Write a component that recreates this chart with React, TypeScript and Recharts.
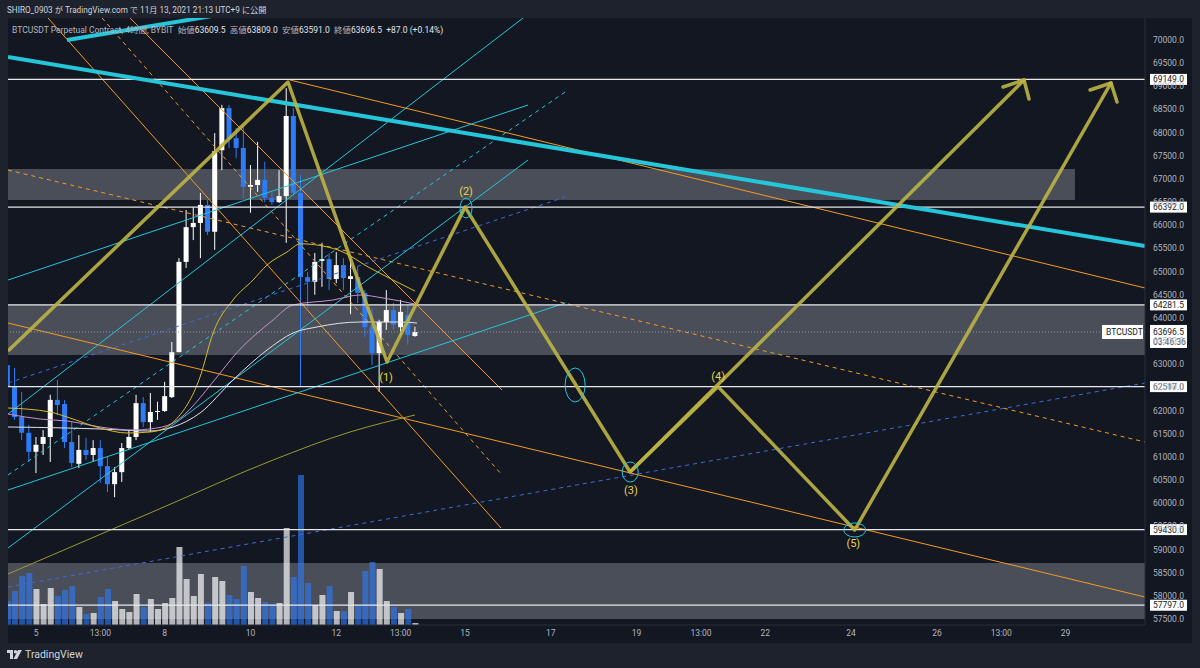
import React from 'react';
import {
  ComposedChart,
  Bar,
  Line,
  XAxis,
  YAxis,
  ReferenceLine,
  ReferenceArea,
  ReferenceDot,
} from 'recharts';

// ---------- DATA ----------
const candleIdx = [-4, -3, -2, -1, 0, 1, 2, 3, 4, 5, 6, 7, 8, 9, 10, 11, 12, 13, 14, 15, 16, 17, 18, 19, 20, 21, 22, 23, 24, 25, 26, 27, 28, 29, 30, 31, 32, 33, 34, 35, 36, 37, 38, 39, 40, 41, 42, 43, 44, 45, 46, 47, 48, 49, 50, 51, 52, 53];
const opens = [62980, 62510, 61860, 61520, 61110, 61280, 61430, 62230, 62140, 61320, 60850, 61150, 61040, 61190, 60800, 60410, 60670, 61190, 61430, 62160, 61750, 61970, 61990, 62290, 63260, 65210, 65960, 66050, 66440, 65860, 67620, 68530, 67880, 67670, 66830, 66870, 66980, 66590, 66500, 66630, 68360, 66700, 64880, 64780, 65230, 65270, 64840, 65140, 64840, 64880, 64540, 63800, 63240, 63910, 64170, 63800, 64060, 63609.5];
const highs = [63090, 62920, 62400, 61690, 61430, 61580, 62340, 62660, 62230, 61750, 61470, 61410, 61360, 61360, 61000, 60780, 61300, 61580, 62340, 62290, 62380, 62190, 62620, 63480, 65290, 66330, 66390, 66700, 66550, 67990, 68600, 68600, 68100, 68170, 67300, 67800, 67370, 66720, 67190, 68960, 68530, 67090, 64990, 65400, 65620, 65400, 65420, 65290, 65290, 65100, 64600, 64210, 63960, 64600, 64320, 64390, 64280, 63809];
const lows = [62440, 61800, 61360, 60890, 60650, 61040, 60890, 61900, 61190, 60780, 60760, 60930, 60890, 60440, 60240, 60130, 60460, 61150, 61360, 61640, 61540, 61800, 61970, 62270, 63260, 65080, 65680, 65290, 65790, 65470, 67190, 67670, 67450, 66590, 66270, 66720, 66500, 66440, 66480, 65620, 66650, 62510, 64210, 64500, 64670, 64600, 64750, 64600, 64080, 64320, 63590, 62980, 62400, 63740, 63740, 63630, 63420, 63591];
const closes = [62510, 61860, 61520, 61110, 61260, 61430, 62230, 62120, 61320, 60870, 61150, 61040, 61190, 60800, 60410, 60670, 61190, 61430, 62160, 61750, 61970, 61990, 62310, 63260, 65210, 65960, 66050, 66440, 65860, 67600, 68530, 67880, 67670, 66830, 66870, 66980, 66590, 66500, 66630, 68360, 66700, 64880, 64780, 65210, 65270, 64840, 65140, 64860, 64900, 64540, 63800, 63240, 63910, 64170, 63850, 64130, 63630, 63696.5];
const volumes = [24, 34, 49, 52, 36, 21, 37, 29, 35, 39, 18, 11, 12, 28, 36, 24, 16, 13, 31, 18, 26, 16, 22, 27, 78, 46, 29, 51, 22, 48, 44, 30, 26, 59, 33, 27, 23, 21, 22, 97, 48, 150, 42, 20, 30, 39, 14, 14, 33, 19, 54, 63, 56, 24, 18, 12, 16, 2];

const tickIdx = [0, 9, 18, 30, 42, 51, 60, 72, 84, 93, 102, 114, 126, 135, 144];
const tickLabels = ['5', '13:00', '8', '10', '12', '13:00', '15', '17', '19', '13:00', '22', '24', '26', '13:00', '29'];
const priceTicks = [57500, 58000, 58500, 59000, 59500, 60000, 60500, 61000, 61500, 62000, 62500, 63000, 63500, 64000, 64500, 65000, 65500, 66000, 66500, 67000, 67500, 68000, 68500, 69000, 69500, 70000];
const levels = [69149.0, 66392.0, 64281.5, 62517.0, 59430.0, 57797.0];
const lastPrice = 63696.5;
const countdown = '03:46:36';
const symbol = 'BTCUSDT';

const xDomain = [-3.92, 155.1];
const yDomain = [57370, 70475];

// grey zones [x1, x2, yLow, yHigh]
const zones = [
  [-3.92, 145.3, 66546, 67215],
  [-3.92, 155.1, 63200, 64281.5],
  [-3.92, 155.1, 57500, 58710],
];

// moving averages
const maYellow = [
  { i: -3.92, p: 62055 }, { i: 1.96, p: 61969 }, { i: 4.34, p: 61861 }, { i: 8.95, p: 61623 },
  { i: 12.73, p: 61515 }, { i: 15.94, p: 61537 }, { i: 18.32, p: 61645 }, { i: 19.5, p: 61796 },
  { i: 22.94, p: 62724 }, { i: 24.76, p: 63674 }, { i: 27.55, p: 64387 }, { i: 30.35, p: 64818 },
  { i: 32.31, p: 65142 }, { i: 35.1, p: 65423 }, { i: 37.0, p: 65600 },
  { i: 42.24, p: 65466 }, { i: 46.71, p: 65077 }, { i: 53.0, p: 64581 },
];
const maPink = [
  { i: -3.92, p: 61925 }, { i: 0.56, p: 61817 }, { i: 4.34, p: 61774 }, { i: 9.93, p: 61623 },
  { i: 13.57, p: 61580 }, { i: 15.94, p: 61602 }, { i: 19.16, p: 61731 }, { i: 25.31, p: 62724 },
  { i: 27.55, p: 63156 }, { i: 33.15, p: 63955 }, { i: 35.94, p: 64279 }, { i: 41.54, p: 64387 },
  { i: 45.31, p: 64495 }, { i: 48.53, p: 64430 }, { i: 53.0, p: 64300 },
];
const maWhite = [
  { i: -3.92, p: 61645 }, { i: 4.34, p: 61623 }, { i: 8.95, p: 61602 }, { i: 15.94, p: 61558 },
  { i: 19.16, p: 61645 }, { i: 22.94, p: 61947 }, { i: 27.55, p: 62659 }, { i: 32.31, p: 63307 },
  { i: 35.94, p: 63674 }, { i: 39.3, p: 63804 }, { i: 45.31, p: 63912 }, { i: 50.91, p: 63912 },
  { i: 53.29, p: 63890 },
];
const maOlive = [
  { i: -3.92, p: 58471 }, { i: 16.92, p: 59853 }, { i: 33.15, p: 60932 }, { i: 43.92, p: 61537 },
  { i: 53.0, p: 61904 },
];

// projected wave path
const wavePath = [
  { i: -3.92, p: 63286 }, { i: 35.24, p: 69093 }, { i: 49.09, p: 63048 }, { i: 60.0, p: 66392 },
  { i: 83.08, p: 60673 }, { i: 95.38, p: 62517 }, { i: 114.5, p: 59421 }, { i: 150.35, p: 69072 },
];
const waveBranch = [{ i: 83.08, p: 60673 }, { i: 138.18, p: 69136 }];
// arrow heads: [tipI, tipP, barbI, barbP]
const arrowBarbs = [
  [138.18, 69136, 135.24, 68985],
  [138.18, 69136, 138.88, 68726],
  [150.35, 69072, 147.41, 68920],
  [150.35, 69072, 151.19, 68661],
];
const waveLabels = [
  { t: '(1)', i: 48.95, p: 62724 },
  { t: '(2)', i: 60.14, p: 66740 },
  { t: '(3)', i: 83.2, p: 60285 },
  { t: '(4)', i: 95.4, p: 62746 },
  { t: '(5)', i: 114.3, p: 59140 },
];
const ellipses = [
  { i: 60.14, p: 66373 },
  { i: 75.4, p: 62552 },
  { i: 83.1, p: 60673 },
  { i: 114.5, p: 59421 },
];
const ellipseRadii = [[6, 10], [10, 17], [8, 10], [11, 7]];

// trend lines [i1, p1, i2, p2]
const thickCyanLines = [
  [-3.92, 69633, 155.1, 65552],
  [4.34, 70000, 27.13, 70583],
];
const orangeSolid = [
  [1.68, 70475, 65.03, 59464],
  [13.15, 70475, 65.17, 62444],
  [35.52, 69136, 155.1, 64646],
  [-3.92, 63890, 155.1, 57974],
];
const orangeDashed = [
  [9.23, 70475, 65.17, 60608],
  [-3.92, 67193, 155.1, 61321],
];
const cyanSolid = [
  [-3.92, 61925, 68.11, 70475],
  [-3.92, 64818, 68.81, 68597],
  [-3.92, 59032, 68.81, 67409],
  [-3.92, 60285, 74.0, 64322],
];
const cyanDashed = [[-3.92, 60608, 74.0, 68877]];
const blueDashed = [
  [-3.92, 58190, 155.1, 62595],
  [-3.92, 62595, 74.0, 66610],
];

// ---------- STYLE ----------
const BG = '#131722';
const FRAME = '#1e222d';
const UP = '#ffffff';
const DOWN = '#2e7bf6';
const VOL_UP = 'rgba(255,255,255,0.68)';
const VOL_DOWN = 'rgba(46,123,246,0.62)';
const AXIS_TXT = '#b2b5be';
const FONT = 'Roboto, "Noto Sans CJK JP", sans-serif';
const CYAN = '#26c6da';
const ORANGE = '#f59b22';
const WAVE = '#bdb445';
const WAVE_TXT = '#e8d44d';

const candles = candleIdx.map((i, k) => ({
  i,
  o: opens[k],
  h: highs[k],
  l: lows[k],
  c: closes[k],
  v: volumes[k],
}));

const CandleShape = (props: any) => {
  const { x, y, width, height, payload } = props;
  if (x == null || y == null || !payload) return null;
  const { o, h, l, c } = payload;
  const top = Math.min(y, y + height);
  const hh = Math.abs(height);
  const ratio = h - l > 0 ? hh / (h - l) : 0;
  const bTop = top + (h - Math.max(o, c)) * ratio;
  const bBot = top + (h - Math.min(o, c)) * ratio;
  const color = c >= o ? UP : DOWN;
  const cx = x + width / 2;
  return (
    <g>
      <line x1={cx} x2={cx} y1={top} y2={top + hh} stroke={color} strokeWidth={1} />
      <rect x={x} y={bTop} width={width} height={Math.max(1, bBot - bTop)} fill={color} />
    </g>
  );
};

const VolShape = (props: any) => {
  const { x, y, width, height, payload } = props;
  if (x == null || !payload) return null;
  const top = Math.min(y, y + height);
  return (
    <rect
      x={x}
      y={top}
      width={width}
      height={Math.abs(height)}
      fill={payload.c >= payload.o ? VOL_UP : VOL_DOWN}
    />
  );
};

const levelLabel = (value: number) => (props: any) => {
  const vb = props.viewBox || {};
  const x = (vb.x || 0) + (vb.width || 0);
  const y = vb.y || 0;
  return (
    <g>
      <rect x={x + 5} y={y - 5.5} width={37} height={11} fill="#ffffff" />
      <text x={x + 8} y={y + 3} fontSize={8.5} fontFamily={FONT} fill={BG}>
        {value.toFixed(1)}
      </text>
    </g>
  );
};

const lastLabel = (props: any) => {
  const vb = props.viewBox || {};
  const x = (vb.x || 0) + (vb.width || 0);
  const y = vb.y || 0;
  return (
    <g>
      <rect x={x - 43} y={y - 7} width={41} height={14} fill="#ffffff" />
      <text x={x - 39} y={y + 3} fontSize={8.5} fontFamily={FONT} fill={BG}>
        {symbol}
      </text>
      <rect x={x + 5} y={y - 7} width={37} height={23} fill="#ffffff" />
      <text x={x + 8} y={y + 3} fontSize={8.5} fontFamily={FONT} fill={BG}>
        {lastPrice.toFixed(1)}
      </text>
      <text x={x + 8} y={y + 13} fontSize={8.5} fontFamily={FONT} fill="#434651">
        {countdown}
      </text>
    </g>
  );
};

const seg = (l: number[]) => [
  { x: l[0], y: l[1] },
  { x: l[2], y: l[3] },
];

export default function App() {
  return (
    <div
      style={{
        position: 'absolute',
        left: 0,
        top: 0,
        width: 1200,
        height: 668,
        background: FRAME,
        overflow: 'hidden',
        fontFamily: FONT,
      }}
    >
      <div style={{ position: 'absolute', left: 8, top: 18, width: 1184, height: 625, background: BG }} />
      <div style={{ position: 'absolute', left: 0, top: 0 }}>
        <ComposedChart
          width={1200}
          height={668}
          data={candles}
          margin={{ top: 18, right: 8, bottom: 25, left: 8 }}
        >
          <XAxis
            dataKey="i"
            type="number"
            domain={xDomain}
            allowDataOverflow
            ticks={tickIdx}
            tickFormatter={(v: number) => tickLabels[tickIdx.indexOf(v)] ?? ''}
            tick={{ fill: AXIS_TXT, fontSize: 8.5, fontFamily: FONT }}
            tickLine={false}
            tickSize={3}
            axisLine={{ stroke: '#2a2e39' }}
            height={18}
            interval={0}
          />
          <XAxis xAxisId="vol" dataKey="i" type="number" domain={xDomain} allowDataOverflow hide />
          <XAxis xAxisId="c" dataKey="i" type="number" domain={xDomain} allowDataOverflow hide />
          <YAxis
            orientation="right"
            type="number"
            domain={yDomain}
            allowDataOverflow
            ticks={priceTicks}
            interval={0}
            tickFormatter={(v: number) => v.toFixed(1)}
            tick={{ fill: AXIS_TXT, fontSize: 8.5, fontFamily: FONT }}
            tickLine={false}
            axisLine={{ stroke: '#2a2e39' }}
            width={47}
          />
          <YAxis yAxisId="vol" domain={[0, 607]} hide />

          {zones.map((z, k) => (
            <ReferenceArea
              key={'z' + k}
              x1={z[0]}
              x2={z[1]}
              y1={z[2]}
              y2={z[3]}
              fill="#82858f"
              fillOpacity={0.5}
              stroke="none"
              ifOverflow="hidden"
            />
          ))}

          <Bar
            xAxisId="vol"
            yAxisId="vol"
            dataKey="v"
            barSize={6}
            shape={VolShape}
            isAnimationActive={false}
          />

          {orangeSolid.map((l, k) => (
            <ReferenceLine key={'os' + k} segment={seg(l)} stroke={ORANGE} strokeWidth={1} ifOverflow="hidden" />
          ))}
          {orangeDashed.map((l, k) => (
            <ReferenceLine key={'od' + k} segment={seg(l)} stroke={ORANGE} strokeWidth={1} strokeDasharray="4 4" ifOverflow="hidden" />
          ))}
          {cyanSolid.map((l, k) => (
            <ReferenceLine key={'cs' + k} segment={seg(l)} stroke={CYAN} strokeWidth={1} ifOverflow="hidden" />
          ))}
          {cyanDashed.map((l, k) => (
            <ReferenceLine key={'cd' + k} segment={seg(l)} stroke={CYAN} strokeWidth={1} strokeDasharray="4 4" ifOverflow="hidden" />
          ))}
          {blueDashed.map((l, k) => (
            <ReferenceLine key={'bd' + k} segment={seg(l)} stroke="#3f6ad8" strokeWidth={1} strokeDasharray="4 4" ifOverflow="hidden" />
          ))}

          <Line data={maOlive} dataKey="p" type="monotone" dot={false} stroke="#9a9b2d" strokeWidth={1} isAnimationActive={false} />
          <Line data={maWhite} dataKey="p" type="monotone" dot={false} stroke="#e0e3eb" strokeWidth={1} isAnimationActive={false} />
          <Line data={maPink} dataKey="p" type="monotone" dot={false} stroke="#c58fd0" strokeWidth={1} isAnimationActive={false} />
          <Line data={maYellow} dataKey="p" type="monotone" dot={false} stroke="#d8bb2a" strokeWidth={1} isAnimationActive={false} />

          {levels.map((lv, k) => (
            <ReferenceLine
              key={'lv' + k}
              y={lv}
              stroke="#e8e8ec"
              strokeWidth={1.3}
              ifOverflow="visible"
              label={levelLabel(lv)}
            />
          ))}
          <ReferenceLine y={lastPrice} stroke="#9598a1" strokeDasharray="1 2" ifOverflow="visible" label={lastLabel} />

          <Bar xAxisId="c" dataKey={(d: any) => [d.l, d.h]} barSize={5} shape={CandleShape} isAnimationActive={false} />

          {thickCyanLines.map((l, k) => (
            <ReferenceLine key={'tc' + k} segment={seg(l)} stroke={CYAN} strokeWidth={4} ifOverflow="hidden" />
          ))}

          <Line data={wavePath} dataKey="p" type="linear" dot={false} stroke={WAVE} strokeOpacity={0.9} strokeWidth={3.5} strokeLinejoin="round" isAnimationActive={false} />
          <Line data={waveBranch} dataKey="p" type="linear" dot={false} stroke={WAVE} strokeOpacity={0.9} strokeWidth={3.5} isAnimationActive={false} />
          {arrowBarbs.map((l, k) => (
            <ReferenceLine key={'ab' + k} segment={seg(l)} stroke={WAVE} strokeOpacity={0.9} strokeWidth={3.5} strokeLinecap="round" ifOverflow="visible" />
          ))}

          {ellipses.map((e, k) => (
            <ReferenceDot
              key={'el' + k}
              x={e.i}
              y={e.p}
              r={1}
              ifOverflow="visible"
              shape={(p: any) => (
                <ellipse cx={p.cx} cy={p.cy} rx={ellipseRadii[k][0]} ry={ellipseRadii[k][1]} fill="none" stroke={CYAN} strokeWidth={1} />
              )}
            />
          ))}
          {waveLabels.map((w, k) => (
            <ReferenceDot
              key={'wl' + k}
              x={w.i}
              y={w.p}
              r={1}
              ifOverflow="visible"
              shape={(p: any) => (
                <text x={p.cx} y={p.cy + 4} textAnchor="middle" fontSize={11} fontFamily={FONT} fill={WAVE_TXT}>
                  {w.t}
                </text>
              )}
            />
          ))}
        </ComposedChart>
      </div>

      <div style={{ position: 'absolute', left: 7, top: 3, fontSize: 8.2, color: '#d1d4dc', whiteSpace: 'nowrap' }}>
        SHIRO_0903 が TradingView.com で 11月 13, 2021 21:13 UTC+9 に公開
      </div>
      <div style={{ position: 'absolute', left: 12, top: 23, fontSize: 8.5, color: '#b2b5be', whiteSpace: 'nowrap' }}>
        BTCUSDT Perpetual Contract, 4時間, BYBIT&nbsp;&nbsp;始値<span style={{ color: '#e0e3eb' }}>63609.5</span>&nbsp;&nbsp;高値
        <span style={{ color: '#e0e3eb' }}>63809.0</span>&nbsp;&nbsp;安値<span style={{ color: '#e0e3eb' }}>63591.0</span>&nbsp;&nbsp;終値
        <span style={{ color: '#e0e3eb' }}>63696.5</span>&nbsp;&nbsp;<span style={{ color: '#e0e3eb' }}>+87.0 (+0.14%)</span>
      </div>
      <div style={{ position: 'absolute', left: 7, top: 648, display: 'flex', alignItems: 'center', color: '#d1d4dc' }}>
        <svg width={15} height={9} style={{ marginRight: 3 }}>
          <rect x={0} y={0} width={6} height={3} fill="#d1d4dc" />
          <rect x={3} y={0} width={3} height={9} fill="#d1d4dc" />
          <circle cx={8.5} cy={1.7} r={1.7} fill="#d1d4dc" />
          <polygon points="11,0 15,0 10,9 6.5,9" fill="#d1d4dc" />
        </svg>
        <span style={{ fontSize: 10.5 }}>TradingView</span>
      </div>
    </div>
  );
}
